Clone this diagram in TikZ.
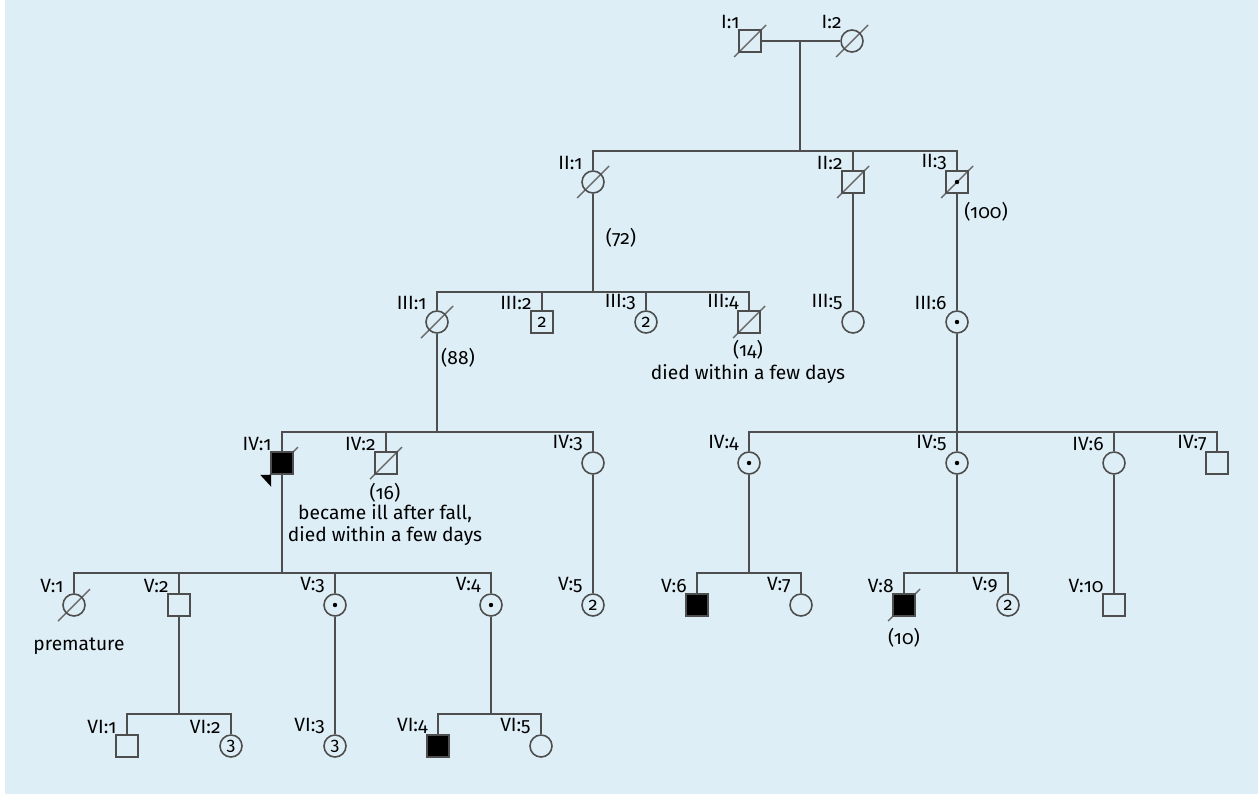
\documentclass[tikz,border=0pt]{standalone}
\usepackage{fontspec}
\setmainfont{Fira Sans}[Numbers=OldStyle]
\usetikzlibrary{calc}
\definecolor{bgblue}{RGB}{222,238,246}
\definecolor{linegray}{RGB}{78,78,78}
\definecolor{slashgray}{RGB}{105,105,105}
\pgfdeclarelayer{bg}
\pgfdeclarelayer{slashes}
\pgfsetlayers{bg,slashes,main}
% slash through a deceased person
\newcommand{\dead}[1]{\begin{pgfonlayer}{slashes}\draw[slashgray,line width=0.7pt] ($(#1)+(-16,16)$) -- ($(#1)+(16,-16)$);\end{pgfonlayer}}

\begin{document}
\begin{tikzpicture}[x=0.5bp,y=-0.5bp,
    font=\fontsize{9.6bp}{11bp}\selectfont,
    link/.style={draw=linegray,line width=0.9pt},
    male/.style={rectangle,draw=linegray,line width=0.8pt,minimum size=11bp,inner sep=0pt},
    female/.style={circle,draw=linegray,line width=0.8pt,minimum size=11bp,inner sep=0pt},
    ill/.style={fill=black},
    carrier/.style={path picture={\fill (path picture bounding box.center) circle (2.2);}},
    many/.style={font=\fontsize{9bp}{9bp}\selectfont},
    tag/.style={append after command={node[anchor=south east,inner sep=0pt,font=\fontsize{9.6bp}{11bp}\selectfont]
        at ([shift={(-10,-12)}]\tikzlastnode.center) {#1}}},
    remark/.style={inner sep=0pt,align=center}]
    \useasboundingbox (0,0) rectangle (1258,794);
    \begin{pgfonlayer}{bg}
        \fill[bgblue] (5,0) rectangle (1258,794);
    \end{pgfonlayer}

    % generation I
    \node[male,tag={I:1}] (i1) at (750,41) {};
    \node[female,tag={I:2}] (i2) at (852,41) {};
    % generation II
    \node[female,tag={II:1}] (ii1) at (593,182) {};
    \node[male,tag={II:2}] (ii2) at (853,182) {};
    \node[male,carrier,tag={II:3}] (ii3) at (957,182) {};
    % generation III
    \node[female,tag={III:1}] (iii1) at (437,322) {};
    \node[male,many,tag={III:2}] (iii2) at (542,322) {2};
    \node[female,many,tag={III:3}] (iii3) at (646,322) {2};
    \node[male,tag={III:4}] (iii4) at (749,322) {};
    \node[female,tag={III:5}] (iii5) at (853,322) {};
    \node[female,carrier,tag={III:6}] (iii6) at (957,322) {};
    % generation IV
    \node[male,ill,tag={IV:1}] (iv1) at (282,463) {};
    \node[male,tag={IV:2}] (iv2) at (386,463) {};
    \node[female,tag={IV:3}] (iv3) at (593,463) {};
    \node[female,carrier,tag={IV:4}] (iv4) at (749,463) {};
    \node[female,carrier,tag={IV:5}] (iv5) at (957,463) {};
    \node[female,tag={IV:6}] (iv6) at (1114,463) {};
    \node[male,tag={IV:7}] (iv7) at (1217,463) {};
    % generation V
    \node[female,tag={V:1}] (v1) at (74,605) {};
    \node[male,tag={V:2}] (v2) at (179,605) {};
    \node[female,carrier,tag={V:3}] (v3) at (335,605) {};
    \node[female,carrier,tag={V:4}] (v4) at (491,605) {};
    \node[female,many,tag={V:5}] (v5) at (593,605) {2};
    \node[male,ill,tag={V:6}] (v6) at (697,605) {};
    \node[female,tag={V:7}] (v7) at (801,605) {};
    \node[male,ill,tag={V:8}] (v8) at (904,605) {};
    \node[female,many,tag={V:9}] (v9) at (1008,605) {2};
    \node[male,tag={V:10}] (v10) at (1114,605) {};
    % generation VI
    \node[male,tag={VI:1}] (vi1) at (127,746) {};
    \node[female,many,tag={VI:2}] (vi2) at (231,746) {3};
    \node[female,many,tag={VI:3}] (vi3) at (335,746) {3};
    \node[male,ill,tag={VI:4}] (vi4) at (438,746) {};
    \node[female,tag={VI:5}] (vi5) at (541,746) {};

    % deceased
    \dead{i1} \dead{i2} \dead{ii1} \dead{ii2} \dead{ii3} \dead{iii1}
    \dead{iii4} \dead{iv1} \dead{iv2} \dead{v1} \dead{v8}
    % proband
    \begin{pgfonlayer}{slashes}
        \fill[black] ($(iv1.south west)+(-10,0)$) -- ($(iv1.south west)+(1,0)$) -- ($(iv1.south west)+(1,12)$) -- cycle;
    \end{pgfonlayer}

    % lines of descent
    \coordinate (m1) at (800,41);
    \coordinate (s2) at (800,151);
    \draw[link] (i1) -- (i2);
    \draw[link] (m1) -- (s2);
    \draw[link] (ii1) |- (s2) -| (ii3);
    \draw[link] (ii2) |- (s2);

    \coordinate (s3) at (593,292);
    \draw[link] (ii1) -- (s3);
    \draw[link] (iii1) |- (s3) -| (iii4);
    \draw[link] (iii2) |- (s3);
    \draw[link] (iii3) |- (s3);
    \draw[link] (ii2) -- (iii5);
    \draw[link] (ii3) -- (iii6);

    \coordinate (s4a) at (437,432);
    \draw[link] (iii1) -- (s4a);
    \draw[link] (iv1) |- (s4a) -| (iv3);
    \draw[link] (iv2) |- (s4a);
    \coordinate (s4b) at (957,432);
    \draw[link] (iii6) -- (s4b);
    \draw[link] (iv4) |- (s4b) -| (iv7);
    \draw[link] (iv5) -- (s4b);
    \draw[link] (iv6) |- (s4b);

    \coordinate (s5a) at (282,573);
    \draw[link] (iv1) -- (s5a);
    \draw[link] (v1) |- (s5a) -| (v4);
    \draw[link] (v2) |- (s5a);
    \draw[link] (v3) |- (s5a);
    \draw[link] (iv3) -- (v5);
    \coordinate (s5b) at (749,573);
    \draw[link] (iv4) -- (s5b);
    \draw[link] (v6) |- (s5b) -| (v7);
    \coordinate (s5c) at (957,573);
    \draw[link] (iv5) -- (s5c);
    \draw[link] (v8) |- (s5c) -| (v9);
    \draw[link] (iv6) -- (v10);

    \coordinate (s6a) at (179,714);
    \draw[link] (v2) -- (s6a);
    \draw[link] (vi1) |- (s6a) -| (vi2);
    \draw[link] (v3) -- (vi3);
    \coordinate (s6b) at (491,714);
    \draw[link] (v4) -- (s6b);
    \draw[link] (vi4) |- (s6b) -| (vi5);

    % ages and remarks
    \node[remark] (age72) at (621,238) {(72)};
    \node[remark] (age100) at (986,212) {(100)};
    \node[remark] (age88) at (458,358) {(88)};
    \node[remark] (age14) at (748,350) {(14)};
    \node[remark] (rem14) at (748,374) {died within a few days};
    \node[remark] (age16) at (385,493) {(16)};
    \node[remark] (rem16) at (385,525) {became ill after fall,\\died within a few days};
    \node[remark] (rem1) at (79,646) {premature};
    \node[remark] (age10) at (904,638) {(10)};
\end{tikzpicture}
\end{document}
